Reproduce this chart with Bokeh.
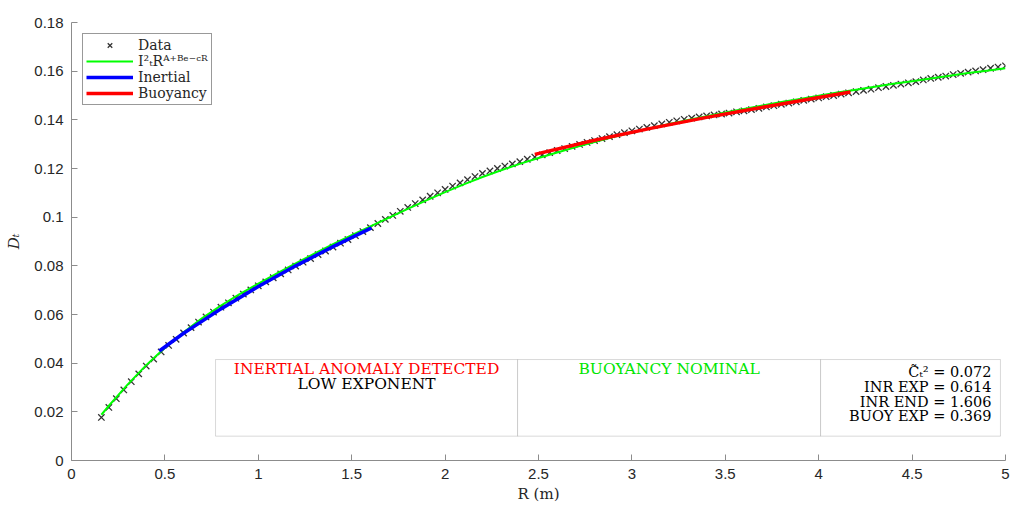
import numpy as np
from bokeh.plotting import figure
from bokeh.models import Range1d, FixedTicker, BoxAnnotation, Label
from bokeh.embed import file_html
from bokeh.resources import INLINE

# ---------------- data ----------------
title_text = "16-Jun-2021 02:13:57 (24 of 269), Mean Wind Speed 2.6325 m/s"

# structure-function lags (m), 0.04 m apart
lag_r = np.round(np.linspace(0.16, 5.00, 122), 2)
d_data = [
    0.0177, 0.0218, 0.0254, 0.0290, 0.0324, 0.0356, 0.0388, 0.0417, 0.0446, 0.0473,
    0.0498, 0.0524, 0.0546, 0.0569, 0.0590, 0.0610, 0.0630, 0.0648, 0.0667, 0.0684,
    0.0701, 0.0718, 0.0734, 0.0751, 0.0767, 0.0783, 0.0799, 0.0815, 0.0830, 0.0846,
    0.0861, 0.0877, 0.0893, 0.0908, 0.0924, 0.0941, 0.0957, 0.0974, 0.0991, 0.1007,
    0.1024, 0.1040, 0.1056, 0.1071, 0.1086, 0.1100, 0.1114, 0.1128, 0.1141, 0.1154,
    0.1167, 0.1180, 0.1190, 0.1200, 0.1210, 0.1219, 0.1228, 0.1238, 0.1247, 0.1256,
    0.1265, 0.1274, 0.1282, 0.1291, 0.1299, 0.1307, 0.1315, 0.1323, 0.1331, 0.1339,
    0.1347, 0.1355, 0.1362, 0.1369, 0.1376, 0.1383, 0.1390, 0.1396, 0.1402, 0.1407,
    0.1412, 0.1416, 0.1420, 0.1424, 0.1428, 0.1433, 0.1437, 0.1442, 0.1447, 0.1453,
    0.1458, 0.1464, 0.1469, 0.1474, 0.1480, 0.1485, 0.1490, 0.1495, 0.1500, 0.1506,
    0.1511, 0.1516, 0.1521, 0.1526, 0.1532, 0.1537, 0.1542, 0.1547, 0.1552, 0.1557,
    0.1564, 0.1570, 0.1575, 0.1580, 0.1586, 0.1591, 0.1596, 0.1601, 0.1606, 0.1612,
    0.1617, 0.1622,
]

fit_r = [0.16, 0.2, 0.3, 0.4, 0.5, 0.6, 0.7, 0.8, 0.9, 1.0, 1.1, 1.2, 1.3, 1.4, 1.5,
         1.6, 1.7, 1.8, 1.9, 2.0, 2.1, 2.2, 2.3, 2.4, 2.5, 2.6, 2.7, 2.8, 2.9, 3.0,
         3.1, 3.2, 3.3, 3.4, 3.5, 3.6, 3.7, 3.8, 3.9, 4.0, 4.1, 4.2, 4.3, 4.4, 4.5,
         4.6, 4.7, 4.8, 4.9, 5.0]
fit_d = [0.0188, 0.0225, 0.0312, 0.0392, 0.0463, 0.0527, 0.0585, 0.0637, 0.0684, 0.0727,
         0.0769, 0.0810, 0.0850, 0.0889, 0.0926, 0.0962, 0.0998, 0.1034, 0.1069, 0.1103,
         0.1135, 0.1165, 0.1193, 0.1219, 0.1243, 0.1266, 0.1288, 0.1309, 0.1329, 0.1348,
         0.1366, 0.1383, 0.1399, 0.1415, 0.1430, 0.1445, 0.1459, 0.1473, 0.1486, 0.1499,
         0.1512, 0.1524, 0.1536, 0.1548, 0.1559, 0.1570, 0.1581, 0.1592, 0.1602, 0.1612]

inertial_r = [0.47, 0.6, 0.8, 1.0, 1.2, 1.4, 1.606]
inertial_d = [0.0450, 0.0523, 0.0623, 0.0715, 0.0800, 0.0879, 0.0956]

buoy_r = [2.48, 2.8, 3.1, 3.4, 3.7, 4.0, 4.17]
buoy_d = [0.1258, 0.1316, 0.1365, 0.1410, 0.1452, 0.1492, 0.1514]

x_ticks = [0, 0.5, 1, 1.5, 2, 2.5, 3, 3.5, 4, 4.5, 5]
x_tick_labels = ["0", "0.5", "1", "1.5", "2", "2.5", "3", "3.5", "4", "4.5", "5"]
y_ticks = [0, 0.02, 0.04, 0.06, 0.08, 0.1, 0.12, 0.14, 0.16, 0.18]
y_tick_labels = ["0", "0.02", "0.04", "0.06", "0.08", "0.1", "0.12", "0.14", "0.16", "0.18"]

box1_lines = ["INERTIAL ANOMALY DETECTED", "LOW EXPONENT"]
box2_lines = ["BUOYANCY NOMINAL"]
box3_lines = ["C\u0303\u209c\u00b2 = 0.072", "INR EXP = 0.614", "INR END = 1.606", "BUOY EXP = 0.369"]

# ---------------- styling ----------------
SERIF = "DejaVu Serif"
SANS = "Liberation Sans"
AX = "#8c8c8c"
TXT = "#262626"

p = figure(width=1010, height=505, output_backend="svg", toolbar_location=None,
           x_range=Range1d(0, 5), y_range=Range1d(0, 0.18),
           min_border_left=71, min_border_right=5, min_border_top=22, min_border_bottom=45)
p.xgrid.visible = False
p.ygrid.visible = False
p.outline_line_color = None
p.background_fill_color = "white"
p.border_fill_color = "white"

for ax in (p.xaxis[0], p.yaxis[0]):
    ax.axis_line_color = AX
    ax.major_tick_line_color = AX
    ax.major_tick_in = 6
    ax.major_tick_out = 0
    ax.minor_tick_line_color = None
    ax.major_label_text_font = SANS
    ax.major_label_text_font_size = "15px"
    ax.major_label_text_color = TXT
    ax.axis_label_text_font = SERIF
    ax.axis_label_text_font_style = "normal"
    ax.axis_label_text_font_size = "15px"
    ax.axis_label_text_color = TXT

p.xaxis[0].ticker = FixedTicker(ticks=x_ticks)
p.xaxis[0].major_label_overrides = {t: l for t, l in zip(x_ticks, x_tick_labels)}
p.xaxis[0].major_label_standoff = 8
p.xaxis[0].axis_label = "R (m)"
p.xaxis[0].axis_label_standoff = 3

p.yaxis[0].ticker = FixedTicker(ticks=y_ticks)
p.yaxis[0].major_label_overrides = {t: l for t, l in zip(y_ticks, y_tick_labels)}
p.yaxis[0].major_label_standoff = 8
p.yaxis[0].axis_label = "D\u209c"
p.yaxis[0].axis_label_text_font_style = "italic"
p.yaxis[0].axis_label_standoff = 8

# ---------------- glyphs ----------------
p.scatter(lag_r, d_data, marker="x", size=9, line_color="black", line_alpha=0.8,
          line_width=1.3, legend_label="Data")
p.line(fit_r, fit_d, line_color="#00ff00", line_width=2,
       legend_label="I\u00b2\u209cR\u1d2c\u207a\u1d2e\u1d49\u207b\u1d9c\u1d3f")
p.line(inertial_r, inertial_d, line_color="#0000ff", line_width=3.5, legend_label="Inertial")
p.line(buoy_r, buoy_d, line_color="#ff0000", line_width=3.5, legend_label="Buoyancy")

lg = p.legend[0]
lg.location = "top_left"
lg.margin = 11
lg.padding = 3
lg.spacing = 0
lg.glyph_width = 47
lg.glyph_height = 16
lg.label_height = 16
lg.label_standoff = 5
lg.label_text_font = SERIF
lg.label_text_font_size = "14px"
lg.label_text_color = TXT
lg.border_line_color = "#333333"
lg.border_line_width = 1
lg.background_fill_alpha = 1

# ---------------- annotation boxes ----------------
BOX_B, BOX_T = 0.0100, 0.0415
edges = [0.771, 2.388, 4.010, 4.973]
for l, r in zip(edges[:-1], edges[1:]):
    p.add_layout(BoxAnnotation(left=l, right=r, bottom=BOX_B, top=BOX_T,
                               fill_color="white", fill_alpha=1,
                               line_color="#808080", line_width=1))

def lab(x, y, t, color="black", align="center", size="15px"):
    p.add_layout(Label(x=x, y=y, text=t, text_font=SERIF, text_font_size=size,
                       text_color=color, text_align=align, text_baseline="middle"))

c1 = (edges[0] + edges[1]) / 2
c2 = (edges[1] + edges[2]) / 2
lab(c1, 0.0374, box1_lines[0], "#ff0000", size="15.5px")
lab(c1, 0.0315, box1_lines[1], "black", size="15.5px")
lab(c2, 0.0374, box2_lines[0], "#00e600", size="15.5px")
for yy, t in zip([0.0362, 0.0302, 0.0242, 0.0181], box3_lines):
    lab(4.925, yy, t, "black", "right", "14.5px")

# title
p.add_layout(Label(x=2.5, y=0.1837, text=title_text, text_font=SERIF, text_font_size="15px",
                   text_color="black", text_align="center", text_baseline="middle"))

open("out.html", "w").write(file_html(p, INLINE))
